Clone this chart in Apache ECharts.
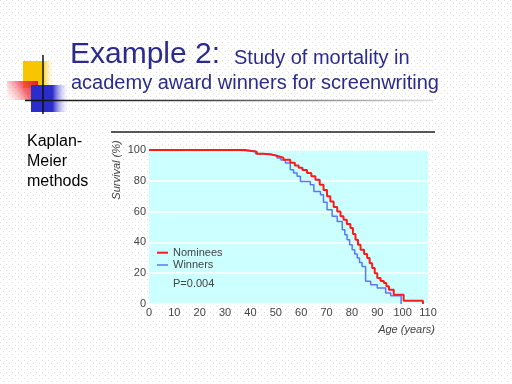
<!DOCTYPE html>
<html>
<head>
<meta charset="utf-8">
<script src="https://cdn.jsdelivr.net/npm/echarts@6/dist/echarts.min.js"></script>
<style>
html,body{margin:0;padding:0;background:#fff;}
#c{width:512px;height:384px;}
</style>
</head>
<body>
<div id="c"></div>
<script>
// ---- data ----
var xTicks = [0, 10, 20, 30, 40, 50, 60, 70, 80, 90, 100, 110];
var yTicks = [0, 20, 40, 60, 80, 100];
var seriesNames = ['Nominees', 'Winners'];
// Kaplan-Meier steps: [age (years), survival (%)]
var nomineesAge  = [0, 38, 42.5, 45, 48.5, 51, 53, 55.7, 57.5, 59, 60.5, 62.3, 64, 65.6, 67.3, 68.8, 70.2, 71.5, 72.8, 74.2, 75.5, 76.7, 78, 79.4, 80.4, 81.4, 82.4, 83.4, 84.8, 86, 87, 88, 89, 90, 91.3, 92.6, 93.6, 94.6, 96.5, 100.4, 108];
var nomineesSurv = [100, 98.8, 97.5, 97, 96, 95, 93.7, 91.7, 90, 88.5, 87, 85, 83, 80.7, 77.5, 74, 70, 66.6, 63, 60, 57, 54.7, 52, 49.3, 45.5, 41.7, 38.5, 35.3, 32.5, 29.8, 26.5, 23.4, 20, 16.9, 15, 13.6, 11.5, 9.3, 6, 2.1, 0];
var winnersAge  = [0, 34.4, 42, 46, 50.5, 52, 53.8, 55.7, 57, 58.4, 59.7, 63.6, 65, 67.6, 68.8, 70.2, 72.2, 74.2, 76.2, 77.2, 78.1, 79.1, 80.1, 81.1, 82.1, 83, 84, 85.4, 87.4, 90, 93.3, 95.3, 99.4];
var winnersSurv = [100, 99.2, 97.5, 96.5, 94.8, 93.5, 91.5, 87.2, 85, 82.9, 79.6, 77.5, 73, 71, 66, 61.2, 56.9, 53.6, 48.2, 45, 41.7, 38.5, 35.3, 32.5, 29.8, 27, 24.4, 14.7, 12.5, 10.4, 7.1, 5.4, 0];
var pValueText = 'P=0.004';

function pairs(a, b) { return a.map(function (v, i) { return [v, b[i]]; }); }

// dotted slide background
var tile = document.createElement('canvas');
tile.width = 6; tile.height = 6;
var tc = tile.getContext('2d');
tc.fillStyle = '#ffffff'; tc.fillRect(0, 0, 6, 6);
tc.fillStyle = '#dedede'; tc.fillRect(0, 0, 1, 1); tc.fillRect(3, 3, 1, 1);

var NARROW = '"Liberation Sans Narrow", "Arial Narrow", "Liberation Sans", Arial, sans-serif';
var SANS = '"Liberation Sans", Arial, sans-serif';
var NAVY = '#2b2b8c';

function txt(x, y, s, font, fill, extra) {
  var st = {text: s, font: font, fill: fill, verticalAlign: 'middle'};
  if (extra) for (var k in extra) st[k] = extra[k];
  return {type: 'text', x: x, y: y, style: st, z: 10};
}

var chart = echarts.init(document.getElementById('c'), null, {renderer: 'canvas'});
chart.setOption({
  backgroundColor: {image: tile, repeat: 'repeat'},
  animation: false,
  grid: {left: 149, right: 84, top: 150, bottom: 80, show: true, backgroundColor: '#ccffff', borderWidth: 0},
  xAxis: {
    type: 'value', min: 0, max: 110, interval: 10,
    axisLine: {show: false}, axisTick: {show: false}, splitLine: {show: false},
    axisLabel: {margin: 3, color: '#444', fontFamily: NARROW, fontSize: 11,
      formatter: function (v) { return xTicks.indexOf(v) >= 0 ? String(v) : ''; }}
  },
  yAxis: {
    type: 'value', min: 0, max: 100, interval: 20,
    axisLine: {show: false}, axisTick: {show: false},
    splitLine: {show: true, lineStyle: {color: '#ffffff', width: 1.5}},
    axisLabel: {margin: 3, color: '#444', fontFamily: NARROW, fontSize: 11,
      formatter: function (v) { return yTicks.indexOf(v) >= 0 ? String(v) : ''; }}
  },
  series: [
    {name: seriesNames[1], type: 'line', step: 'end', showSymbol: false, symbol: 'none',
      data: pairs(winnersAge, winnersSurv), lineStyle: {color: '#5b78f0', width: 1.5}, z: 2},
    {name: seriesNames[0], type: 'line', step: 'end', showSymbol: false, symbol: 'none',
      data: pairs(nomineesAge, nomineesSurv), lineStyle: {color: '#ff1a1a', width: 2}, z: 3}
  ],
  graphic: [
    // decorative squares
    {type: 'rect', shape: {x: 23, y: 61, width: 32, height: 27},
      style: {fill: {type: 'linear', x: 0, y: 0, x2: 1, y2: 0, colorStops: [
        {offset: 0, color: '#f7c600'}, {offset: 0.6, color: '#f7c600'}, {offset: 1, color: 'rgba(255,255,255,0)'}]}}},
    {type: 'rect', shape: {x: 7, y: 81, width: 31, height: 19},
      style: {fill: {type: 'linear', x: 1, y: 0, x2: 0, y2: 1, colorStops: [
        {offset: 0, color: '#e8141c'}, {offset: 0.45, color: 'rgba(238,60,70,0.75)'}, {offset: 1, color: 'rgba(255,230,230,0.2)'}]}}},
    {type: 'rect', shape: {x: 31, y: 85, width: 39, height: 27},
      style: {fill: {type: 'linear', x: 0, y: 0, x2: 1, y2: 0, colorStops: [
        {offset: 0, color: '#2a2ccc'}, {offset: 0.55, color: '#2a2ccc'}, {offset: 1, color: 'rgba(255,255,255,0)'}]}}},
    {type: 'line', shape: {x1: 43, y1: 55, x2: 43, y2: 114}, style: {stroke: '#111', lineWidth: 1.5}},
    {type: 'line', shape: {x1: 25, y1: 100.5, x2: 433, y2: 100.5},
      style: {lineWidth: 1.5, stroke: {type: 'linear', x: 0, y: 0, x2: 1, y2: 0, colorStops: [
        {offset: 0, color: '#111'}, {offset: 0.45, color: '#444'}, {offset: 1, color: '#e0e0e0'}]}}},
    // titles
    txt(70, 55, 'Example 2:', '30px ' + SANS, NAVY),
    txt(234, 58.5, 'Study of mortality in', '20px ' + SANS, NAVY),
    txt(71, 83.5, 'academy award winners for screenwriting', '20px ' + SANS, NAVY),
    txt(27, 142, 'Kaplan-', '16px ' + SANS, '#000'),
    txt(27, 162, 'Meier', '16px ' + SANS, '#000'),
    txt(27, 182, 'methods', '16px ' + SANS, '#000'),
    // chart rule and axis titles
    {type: 'line', shape: {x1: 111, y1: 132, x2: 435, y2: 132}, style: {stroke: '#222', lineWidth: 1.5}},
    {type: 'text', x: 117, y: 170, rotation: Math.PI / 2,
      style: {text: 'Survival (%)', font: 'italic 11px ' + NARROW, fill: '#444', align: 'center', verticalAlign: 'middle'}},
    txt(435, 330, 'Age (years)', 'italic 11px ' + NARROW, '#444', {align: 'right'}),
    // legend
    {type: 'line', shape: {x1: 157, y1: 252.7, x2: 168, y2: 252.7}, style: {stroke: '#ff1a1a', lineWidth: 2}, z: 10},
    txt(173, 252.7, seriesNames[0], '11px ' + NARROW, '#444'),
    {type: 'line', shape: {x1: 157, y1: 265, x2: 168, y2: 265}, style: {stroke: '#5b78f0', lineWidth: 1.5}, z: 10},
    txt(173, 265, seriesNames[1], '11px ' + NARROW, '#444'),
    txt(173, 284, pValueText, '11px ' + NARROW, '#444')
  ]
});
</script>
</body>
</html>
